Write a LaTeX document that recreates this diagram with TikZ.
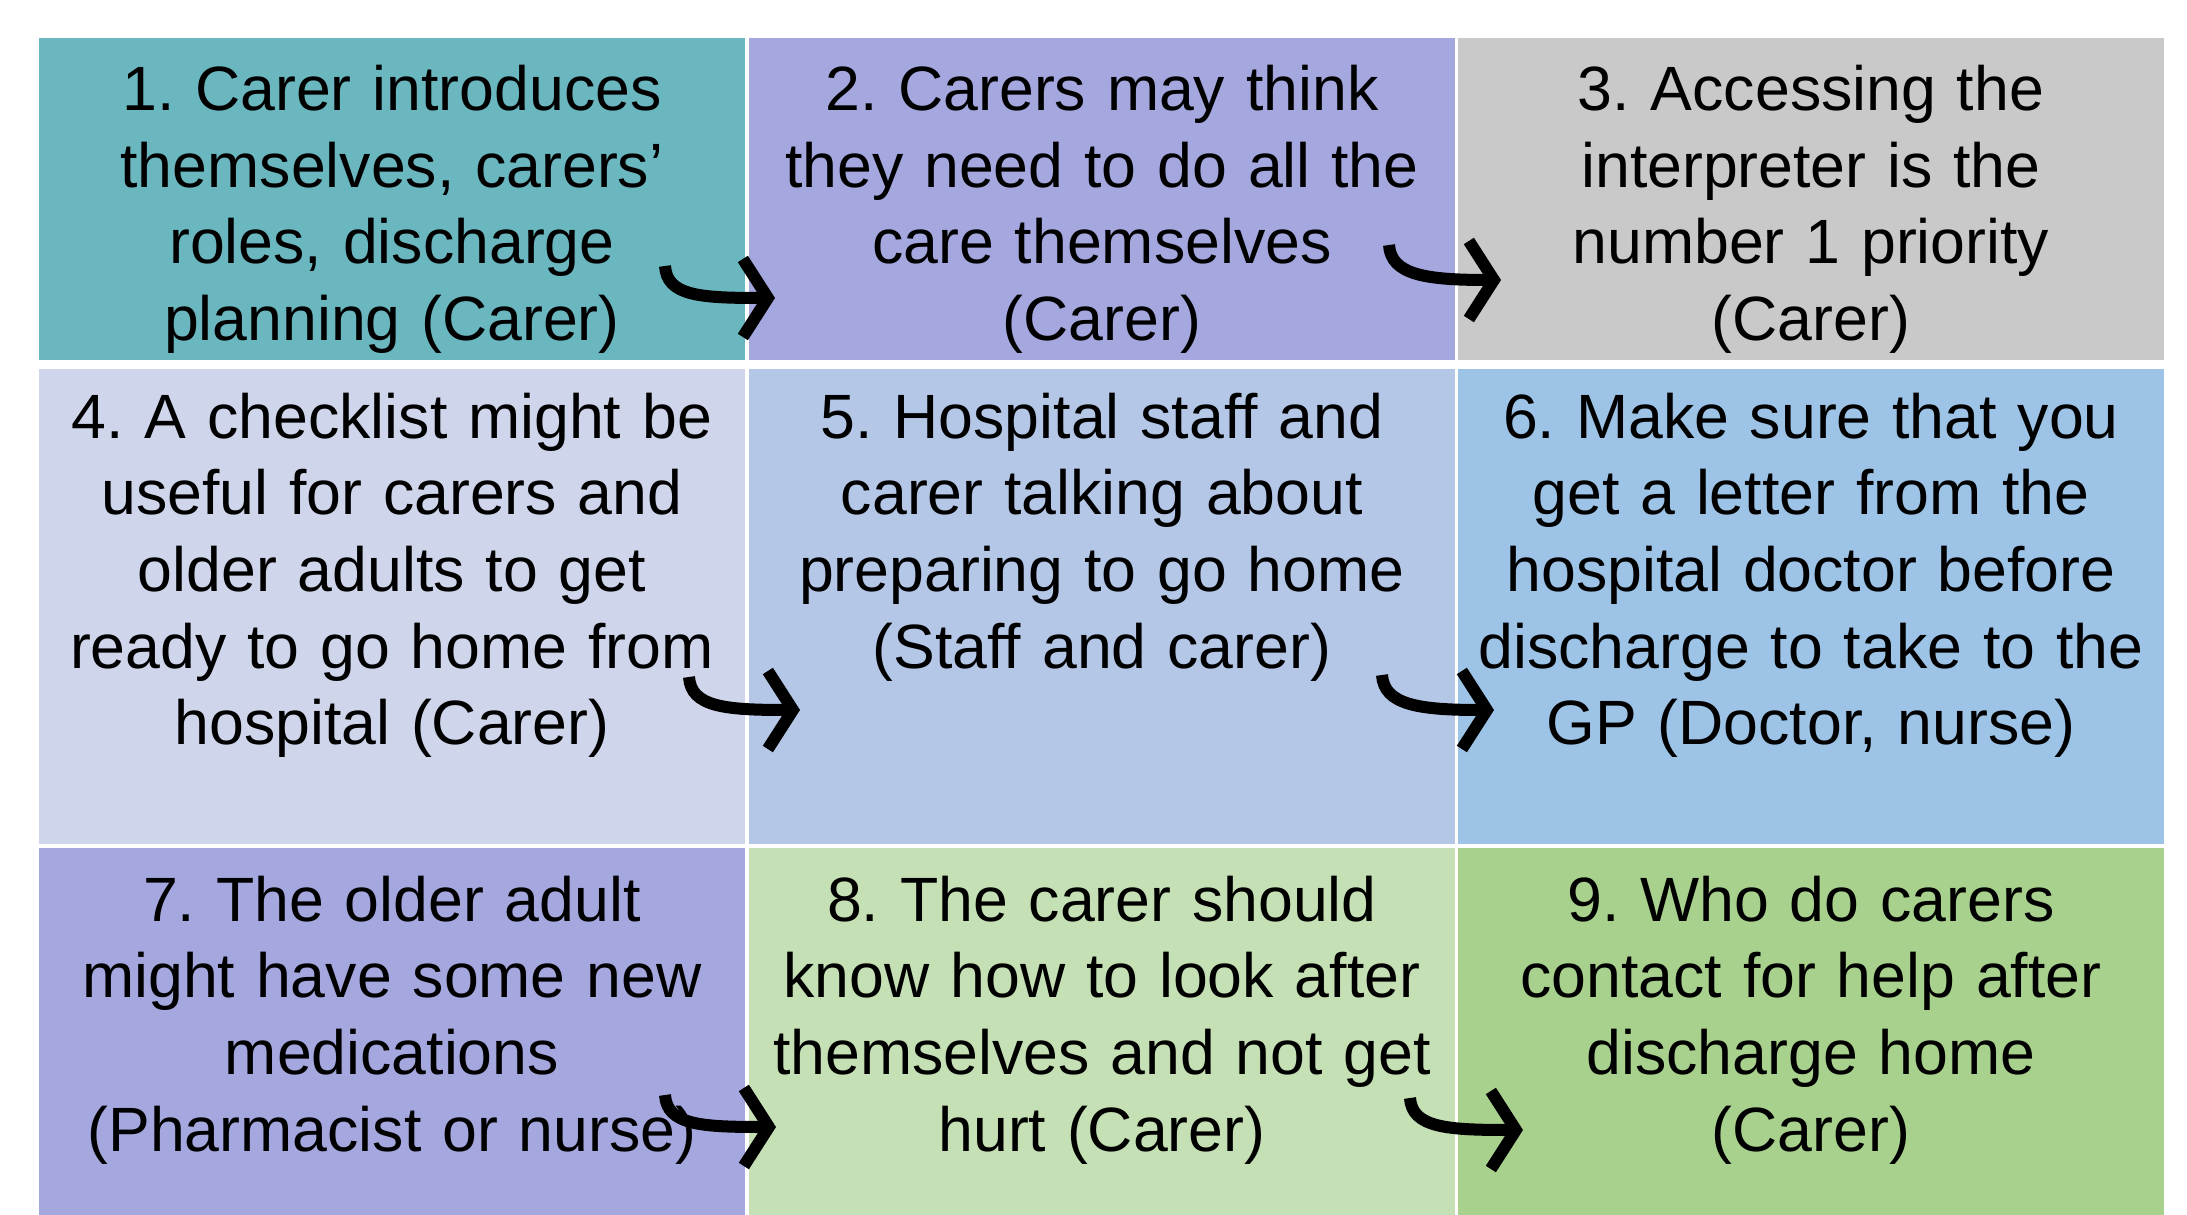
\documentclass[tikz,border=0pt]{standalone}
\usepackage{fontspec}
\setmainfont{Liberation Sans}
\usetikzlibrary{arrows.meta}
\definecolor{tealc}{HTML}{6AB7BF}
\definecolor{lavc}{HTML}{A5A7DF}
\definecolor{greyc}{HTML}{C9C9C9}
\definecolor{palec}{HTML}{CFD5EA}
\definecolor{skyc}{HTML}{B4C7E7}
\definecolor{bluec}{HTML}{9DC3E6}
\definecolor{mintc}{HTML}{C5E0B4}
\definecolor{greenc}{HTML}{A9D18E}
\frenchspacing

\begin{document}
\begin{tikzpicture}[x=0.01cm, y=-0.01cm,
        cell/.style={anchor=north west, inner sep=0pt, minimum width=7.06cm},
        txt/.style={anchor=base, text width=7cm, align=center, inner sep=0pt,
            font=\fontsize{17.8pt}{21.8pt}\selectfont},
        hook/.style={-{Straight Barb[length=0.25cm, width=0.78cm]}, line width=0.12cm}]
        \useasboundingbox (0,0) rectangle (2187,1215);

        % the nine boxes
        \foreach \n/\x/\y/\h/\c in {1/38/37/322/tealc, 2/748/37/322/lavc, 3/1457/37/322/greyc,
            4/38/368/475/palec, 5/748/368/475/skyc, 6/1457/368/475/bluec,
            7/38/847/368/lavc, 8/748/847/368/mintc, 9/1457/847/368/greenc} {
        \node[cell, fill=\c, minimum height=\h*0.01cm] (c\n) at (\x,\y) {};
        }

        \node[txt] (t1) at ([yshift=-0.735cm]c1.north) {1. Carer introduces\\themselves, carers’\\roles, discharge\\planning (Carer)};
        \node[txt] (t2) at ([yshift=-0.735cm]c2.north) {2. Carers may think\\they need to do all the\\care themselves\\(Carer)};
        \node[txt] (t3) at ([yshift=-0.735cm]c3.north) {3. Accessing the\\interpreter is the\\number 1 priority\\(Carer)};
        \node[txt] (t4) at ([yshift=-0.70cm]c4.north) {4. A checklist might be\\useful for carers and\\older adults to get\\ready to go home from\\hospital (Carer)};
        \node[txt] (t5) at ([yshift=-0.70cm]c5.north) {5. Hospital staff and\\carer talking about\\preparing to go home\\(Staff and carer)};
        \node[txt] (t6) at ([yshift=-0.70cm]c6.north) {6. Make sure that you\\get a letter from the\\hospital doctor before\\discharge to take to the\\GP (Doctor, nurse)};
        \node[txt] (t7) at ([yshift=-0.74cm]c7.north) {7. The older adult\\might have some new\\medications\\(Pharmacist or nurse)};
        \node[txt] (t8) at ([yshift=-0.74cm]c8.north) {8. The carer should\\know how to look after\\themselves and not get\\hurt (Carer)};
        \node[txt] (t9) at ([yshift=-0.74cm]c9.north) {9. Who do carers\\contact for help after\\discharge home\\(Carer)};

        % hooked arrows between the boxes
        \foreach \n/\sx/\sy/\ex/\ey in {1/665/266/775/298, 2/1389/245/1501/280,
            3/689/677/800/710, 4/1382/675/1494/710,
            5/665/1095/776/1127, 6/1410/1098/1523/1130} {
        \coordinate (s\n) at (\sx,\sy);
        \coordinate (e\n) at (\ex,\ey);
        \draw[hook] (s\n) .. controls +(2,30) and +(-75,0) .. (e\n);
        }
    \end{tikzpicture}
\end{document}
